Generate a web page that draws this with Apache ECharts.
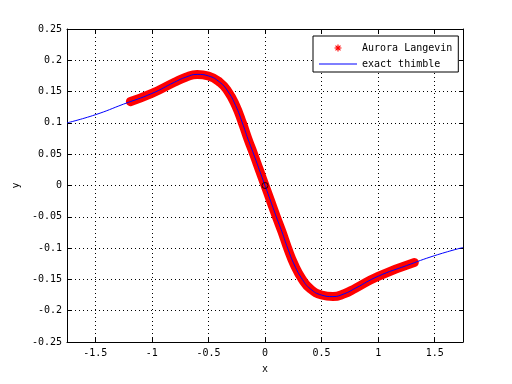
<!DOCTYPE html>
<html>
<head>
<meta charset="utf-8">
<script src="https://cdn.jsdelivr.net/npm/echarts@6/dist/echarts.min.js"></script>
<style>
  html, body { margin: 0; padding: 0; background: #fff; }
  #chart { width: 512px; height: 384px; }
</style>
</head>
<body>
<div id="chart"></div>
<script>
// values
const thimbleX = [-1.75, -1.5, -1.25, -1.0, -0.8, -0.7, -0.6, -0.5, -0.4, -0.33, -0.26, -0.2, -0.15, -0.1, -0.05, 0,
  0.05, 0.1, 0.15, 0.2, 0.26, 0.33, 0.4, 0.5, 0.6, 0.7, 0.8, 1.0, 1.25, 1.5, 1.75]
const thimbleY = [0.1, 0.113, 0.13, 0.147, 0.165, 0.173, 0.1775, 0.175, 0.165, 0.151, 0.128, 0.1, 0.074, 0.05, 0.025, 0,
  -0.025, -0.05, -0.074, -0.1, -0.127, -0.15, -0.165, -0.175, -0.1775, -0.173, -0.164, -0.145, -0.128, -0.112, -0.099]

const langevinX = [-1.19, -1.0, -0.8, -0.7, -0.6, -0.5, -0.4, -0.33, -0.26, -0.2, -0.15, -0.1, -0.05, 0,
  0.05, 0.1, 0.15, 0.2, 0.26, 0.33, 0.4, 0.5, 0.6, 0.7, 0.8, 1.0, 1.32]
const langevinY = [0.134, 0.147, 0.165, 0.173, 0.1775, 0.175, 0.165, 0.151, 0.128, 0.1, 0.074, 0.05, 0.025, 0,
  -0.025, -0.05, -0.074, -0.1, -0.127, -0.15, -0.165, -0.175, -0.1775, -0.173, -0.164, -0.145, -0.123]

const originPoint = [[0, 0]]

const xTicks = [-1.5, -1, -0.5, 0, 0.5, 1, 1.5]
const xMin = -1.75
const xMax = 1.75
const yMin = -0.25
const yMax = 0.25
const yStep = 0.05

const font = 'DejaVu Sans Mono'
const starIcon = 'path://M-0.8,-5L0.8,-5L0.8,5L-0.8,5Z' +
  'M-5,-0.8L5,-0.8L5,0.8L-5,0.8Z' +
  'M-4.1,-3L-3,-4.1L4.1,3L3,4.1Z' +
  'M3,-4.1L4.1,-3L-3,4.1L-4.1,3Z'
const lineIcon = 'path://M0,0L38,0L38,1L0,1Z'

function pairs(xs, ys) {
  return xs.map((x, i) => [x, ys[i]])
}

let mychart = echarts.init(document.getElementById('chart'))

let dotted = { show: true, lineStyle: { color: '#000', width: 1, type: [1, 3] } }
let line = { show: true, onZero: false, lineStyle: { color: '#000', width: 1 } }
let label = { fontFamily: font, fontSize: 10, color: '#000' }

let option = {
  animation: false,
  backgroundColor: '#fff',
  grid: { left: 67, right: 49, top: 29, bottom: 42, containLabel: false },
  legend: {
    orient: 'vertical',
    left: 313,
    top: 36,
    padding: [7, 6, 3, 6],
    itemGap: 6,
    itemWidth: 38,
    itemHeight: 7,
    backgroundColor: '#fff',
    borderColor: '#000',
    borderWidth: 1,
    borderRadius: 0,
    textStyle: { fontFamily: font, fontSize: 10, color: '#000' },
    data: [
      { name: 'Aurora Langevin', icon: starIcon },
      { name: 'exact thimble', icon: lineIcon }
    ]
  },
  xAxis: [
    {
      type: 'value', min: xMin, max: xMax, position: 'bottom',
      name: 'x', nameLocation: 'middle', nameGap: 22,
      nameTextStyle: label,
      axisLine: line,
      axisTick: { inside: true, length: 4, customValues: xTicks, lineStyle: { color: '#000' } },
      axisLabel: { ...label, margin: 6, customValues: xTicks },
      splitLine: dotted
    },
    {
      type: 'value', min: xMin, max: xMax, position: 'top',
      axisLine: line,
      axisTick: { inside: true, length: 4, customValues: xTicks, lineStyle: { color: '#000' } },
      axisLabel: { show: false },
      splitLine: { show: false }
    }
  ],
  yAxis: [
    {
      type: 'value', min: yMin, max: yMax, interval: yStep, position: 'left',
      name: 'y', nameLocation: 'middle', nameGap: 34,
      nameTextStyle: label,
      axisLine: line,
      axisTick: { inside: true, length: 4, lineStyle: { color: '#000' } },
      axisLabel: { ...label, margin: 5 },
      splitLine: dotted
    },
    {
      type: 'value', min: yMin, max: yMax, interval: yStep, position: 'right',
      axisLine: line,
      axisTick: { inside: true, length: 4, lineStyle: { color: '#000' } },
      axisLabel: { show: false },
      splitLine: { show: false }
    }
  ],
  series: [
    {
      name: 'Aurora Langevin',
      type: 'line',
      data: pairs(langevinX, langevinY),
      smooth: 0.5,
      showSymbol: false,
      itemStyle: { color: '#ff0000' },
      lineStyle: { color: '#ff0000', width: 9, cap: 'round', join: 'round' },
      z: 2
    },
    {
      name: 'exact thimble',
      type: 'line',
      data: pairs(thimbleX, thimbleY),
      smooth: 0.5,
      showSymbol: false,
      symbol: 'none',
      itemStyle: { color: '#0000ff' },
      lineStyle: { color: '#0000ff', width: 1 },
      z: 3
    },
    {
      name: 'origin',
      type: 'scatter',
      data: originPoint,
      symbol: 'circle',
      symbolSize: 6,
      itemStyle: { color: 'rgba(0,0,0,0)', borderColor: '#000', borderWidth: 1 },
      z: 4
    }
  ]
}
mychart.setOption(option)
</script>
</body>
</html>
